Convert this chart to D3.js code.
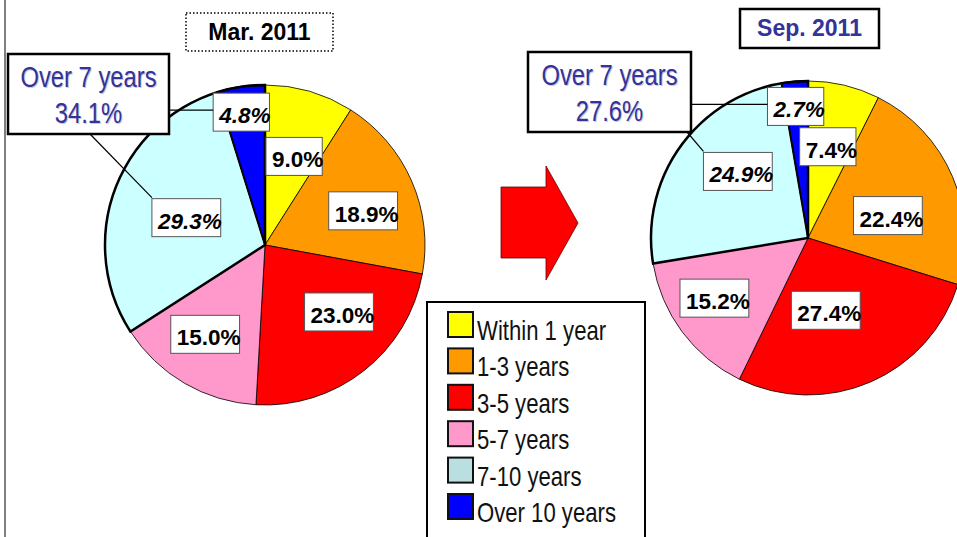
<!DOCTYPE html>
<html>
<head>
<meta charset="utf-8">
<script src="https://cdn.jsdelivr.net/npm/d3@7"></script>
<style>
  html, body { margin: 0; padding: 0; background: #fff; }
  svg { display: block; }
  .narrow { font-family: "Liberation Sans", Arial, sans-serif; }
  .bold { font-family: "Liberation Sans", Arial, sans-serif; font-weight: bold; }
</style>
</head>
<body>
<div id="chart"></div>
<script>
// maturity buckets, clockwise from 12 o'clock
const categories = ['Within 1 year', '1-3 years', '3-5 years', '5-7 years', '7-10 years', 'Over 10 years']
const sliceColors = ['#ffff00', '#ff9900', '#ff0000', '#ff99cc', '#ccffff', '#0000ff']
const legendColors = ['#ffff00', '#ff9900', '#ff0000', '#ff99cc', '#b9dfe0', '#0000ff']
const periods = ['Mar. 2011', 'Sep. 2011']
const mar2011 = [9.0, 18.9, 23.0, 15.0, 29.3, 4.8]
const sep2011 = [7.4, 22.4, 27.4, 15.2, 24.9, 2.7]
const over7Label = 'Over 7 years'

const W = 957, H = 537
const svg = d3.select('#chart').append('svg')
  .attr('width', W).attr('height', H)

// no narrow font installed: squeeze horizontally instead
function narrowText(parent, x, y, size, anchor) {
  return parent.append('text').attr('class', 'narrow')
    .attr('transform', `translate(${x},${y}) scale(0.82,1)`)
    .attr('text-anchor', anchor).attr('font-size', size)
}

// left frame line
svg.append('line').attr('x1', 5).attr('x2', 5).attr('y1', 0).attr('y2', H)
  .attr('stroke', '#555').attr('stroke-width', 1.5)

const pie = d3.pie().sort(null).value(d => d)

// layout for each panel
const panels = [
  {
    values: mar2011, title: periods[0], cx: 265, cy: 245, r: 160,
    labelR: [0.59, 0.67, 0.64, 0.66, 0.5, 0.84],
    nudge: [4, 5, -11, 2, 0, 0],
    titleBox: [186, 13, 147, 38], titleColor: '#000', titleDash: '1.5,2', titleStroke: 1.5,
    callout: [8, 54, 161, 80], calloutStart: 82
  },
  {
    values: sep2011, title: periods[1], cx: 808, cy: 238, r: 157,
    labelR: [0.6, 0.55, 0.48, 0.69, 0.6, 0.84],
    nudge: [1, 8, 7, 3, 9.5, 1],
    titleBox: [740, 9, 139, 39], titleColor: '#333399', titleDash: null, titleStroke: 2.5,
    callout: [528, 52, 163, 80], calloutStart: 159
  }
]

panels.forEach(p => {
  const g = svg.append('g')
  const arcs = pie(p.values)
  const arc = d3.arc().innerRadius(0).outerRadius(p.r)

  const pg = g.append('g').attr('transform', `translate(${p.cx},${p.cy})`)
  pg.selectAll('path.slice')
    .data(arcs)
    .join('path')
      .attr('class', 'slice')
      .attr('d', arc)
      .attr('fill', (d, i) => sliceColors[i])
      .attr('stroke', '#000')
      .attr('stroke-width', 0.8)

  // heavy outline round the "over 7 years" group
  const over7 = { startAngle: arcs[4].startAngle, endAngle: arcs[5].endAngle }
  pg.append('path').attr('d', arc(over7))
    .attr('fill', 'none').attr('stroke', '#000').attr('stroke-width', 2.5)
  pg.append('path').attr('d', arc(arcs[5]))
    .attr('fill', 'none').attr('stroke', '#000').attr('stroke-width', 2)

  // title box
  const tb = p.titleBox
  g.append('rect').attr('x', tb[0]).attr('y', tb[1]).attr('width', tb[2]).attr('height', tb[3])
    .attr('fill', '#fff').attr('stroke', '#000').attr('stroke-width', p.titleStroke)
    .attr('stroke-dasharray', p.titleDash)
  g.append('text').attr('class', 'bold')
    .attr('x', tb[0] + tb[2] / 2).attr('y', tb[1] + 27)
    .attr('text-anchor', 'middle').attr('font-size', 23)
    .attr('fill', p.titleColor).text(p.title)

  // slice labels
  const labelPos = arcs.map((d, i) => {
    const a = (d.startAngle + d.endAngle) / 2 + p.nudge[i] * Math.PI / 180
    const rr = p.labelR[i] * p.r
    return [p.cx + Math.sin(a) * rr, p.cy - Math.cos(a) * rr]
  })
  const boxes = []
  arcs.forEach((d, i) => {
    const [x, y] = labelPos[i]
    const lg = g.append('g')
    const rect = lg.append('rect')
    const t = lg.append('text').attr('class', 'bold')
      .attr('x', x).attr('y', y + 11)
      .attr('text-anchor', 'middle').attr('font-size', 22.5)
      .attr('font-style', i >= 4 ? 'italic' : 'normal')
      .attr('fill', '#000')
      .text(d.data.toFixed(1) + '%')
    const w = t.node().getComputedTextLength()
    const bx = x - w / 2 - 6, by = y - 19
    rect.attr('x', bx).attr('y', by).attr('width', w + 5).attr('height', 38)
      .attr('fill', '#fff').attr('stroke', '#555').attr('stroke-width', 1)
    boxes.push([bx, by, w + 5, 38])
  })

  // callout with leader lines
  const c = p.callout
  const blue = boxes[5], cyan = boxes[4]
  g.append('line')
    .attr('x1', c[0] + c[2]).attr('y1', blue[1] + blue[3] / 2 - 2)
    .attr('x2', blue[0]).attr('y2', blue[1] + blue[3] / 2 - 2)
    .attr('stroke', '#000').attr('stroke-width', 1.2)
  g.append('line')
    .attr('x1', c[0] + p.calloutStart).attr('y1', c[1] + c[3])
    .attr('x2', cyan[0]).attr('y2', cyan[1] - 1)
    .attr('stroke', '#000').attr('stroke-width', 1.2)
  g.append('rect').attr('x', c[0]).attr('y', c[1]).attr('width', c[2]).attr('height', c[3])
    .attr('fill', '#fff').attr('stroke', '#000').attr('stroke-width', 2.5)
  const total = d3.sum(p.values.slice(4))
  const lines = [over7Label, total.toFixed(1) + '%']
  lines.forEach((s, k) => {
    narrowText(g, c[0] + c[2] / 2 + 1, c[1] + 33 + k * 36 + 1, 29, 'middle')
      .attr('fill', '#c8c8d8').text(s)
    narrowText(g, c[0] + c[2] / 2, c[1] + 33 + k * 36, 29, 'middle')
      .attr('fill', '#333399').text(s)
  })
})

// arrow between the two pies
svg.append('path')
  .attr('d', 'M501,187 L546,187 L546,166 L578,223 L546,280 L546,258 L501,258 Z')
  .attr('fill', '#ff0000').attr('stroke', '#600').attr('stroke-width', 0.8)

// legend
const legend = svg.append('g')
legend.append('rect').attr('x', 427).attr('y', 302).attr('width', 218).attr('height', 250)
  .attr('fill', '#fff').attr('stroke', '#000').attr('stroke-width', 2)
const ly = d3.scalePoint().domain(categories).range([312, 494])
categories.forEach((cat, i) => {
  legend.append('rect').attr('x', 448).attr('y', ly(cat)).attr('width', 25).attr('height', 25)
    .attr('fill', legendColors[i]).attr('stroke', '#111').attr('stroke-width', 2)
  narrowText(legend, 477, ly(cat) + 28, 27, 'start')
    .attr('fill', '#111').text(cat)
})
</script>
</body>
</html>
